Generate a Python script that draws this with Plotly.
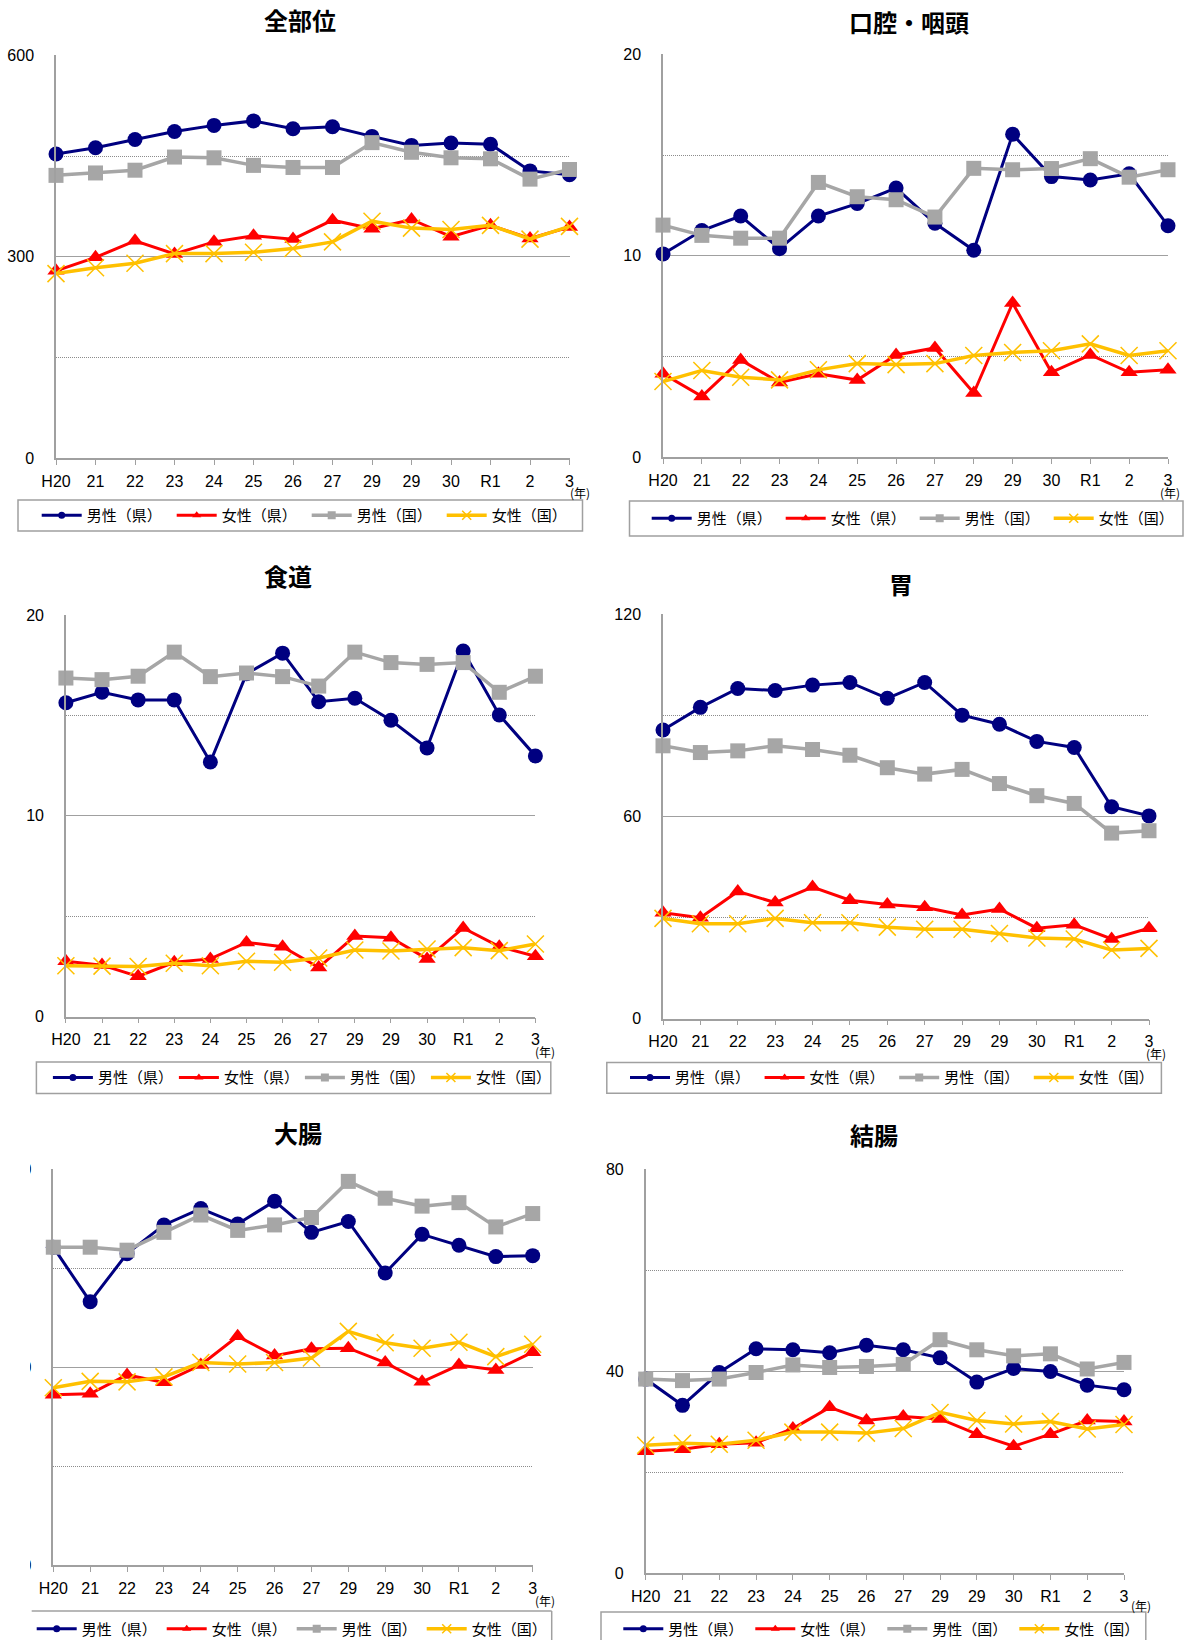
import plotly.graph_objects as go

W, H = 1187, 1640

years = ["H20", "21", "22", "23", "24", "25", "26", "27", "29", "29", "30", "R1", "2", "3"]
series_names = ["男性（県）", "女性（県）", "男性（国）", "女性（国）"]

# 全部位
all_m_pref = [453.1, 462.3, 474.6, 486.5, 495.7, 502.4, 490.6, 493.7, 479.3, 465.9, 469.5, 467.5, 427.9, 422.3]
all_f_pref = [278.9, 299.0, 323.6, 304.1, 322.1, 331.3, 326.2, 354.4, 341.6, 355.5, 329.8, 346.7, 327.2, 344.2]
all_m_nat = [421.2, 424.8, 428.9, 448.5, 447.4, 436.1, 433.0, 433.0, 470.0, 455.6, 447.4, 445.9, 415.6, 430.0]
all_f_nat = [274.8, 283.6, 290.2, 304.6, 304.6, 306.7, 312.3, 322.1, 352.9, 342.6, 340.6, 346.7, 326.2, 345.2]

# 口腔・咽頭
oral_m_pref = [10.09, 11.25, 11.97, 10.35, 11.97, 12.59, 13.36, 11.61, 10.27, 16.03, 13.93, 13.76, 14.07, 11.49]
oral_f_pref = [4.13, 3.01, 4.82, 3.70, 4.13, 3.82, 5.07, 5.42, 3.18, 7.65, 4.21, 5.07, 4.21, 4.33]
oral_m_nat = [11.52, 11.01, 10.87, 10.87, 13.64, 12.93, 12.78, 11.92, 14.34, 14.27, 14.33, 14.82, 13.90, 14.27]
oral_f_nat = [3.75, 4.30, 3.96, 3.83, 4.33, 4.64, 4.59, 4.64, 5.04, 5.19, 5.28, 5.62, 5.04, 5.28]

# 食道
eso_m_pref = [15.63, 16.15, 15.77, 15.77, 12.68, 17.07, 18.10, 15.68, 15.85, 14.76, 13.38, 18.21, 15.02, 12.98]
eso_f_pref = [2.75, 2.56, 2.00, 2.70, 2.87, 3.69, 3.48, 2.44, 4.01, 3.92, 2.87, 4.41, 3.48, 3.00]
eso_m_nat = [16.86, 16.78, 16.95, 18.15, 16.93, 17.11, 16.93, 16.46, 18.15, 17.63, 17.54, 17.63, 16.15, 16.95]
eso_f_nat = [2.53, 2.51, 2.49, 2.65, 2.53, 2.75, 2.70, 2.91, 3.31, 3.26, 3.36, 3.43, 3.28, 3.61]

# 胃
sto_m_pref = [85.6, 92.3, 97.9, 97.3, 98.9, 99.7, 95.0, 99.7, 90.0, 87.3, 82.2, 80.4, 62.8, 60.1]
sto_f_pref = [31.4, 29.9, 37.7, 34.4, 39.0, 35.1, 33.8, 33.0, 30.7, 32.5, 26.8, 27.8, 23.6, 26.8]
sto_m_nat = [80.9, 78.9, 79.4, 80.9, 79.8, 78.1, 74.4, 72.5, 73.9, 69.7, 66.1, 63.8, 55.0, 55.7]
sto_f_nat = [29.7, 28.1, 28.1, 29.7, 28.4, 28.4, 27.1, 26.5, 26.5, 25.2, 23.9, 23.6, 20.3, 20.8]

# 大腸
crc_m_pref = [64.2, 53.2, 62.9, 68.7, 72.0, 68.9, 73.5, 67.2, 69.4, 59.0, 66.8, 64.6, 62.3, 62.5]
crc_f_pref = [34.4, 34.6, 38.4, 36.9, 40.4, 46.2, 42.3, 43.7, 43.8, 40.9, 37.0, 40.4, 39.4, 43.0]
crc_m_nat = [64.2, 64.2, 63.6, 67.2, 70.7, 67.6, 68.7, 70.2, 77.5, 74.1, 72.5, 73.2, 68.3, 71.0]
crc_f_nat = [35.8, 37.1, 37.0, 38.0, 40.9, 40.6, 40.9, 41.8, 47.2, 44.9, 43.8, 45.0, 42.1, 44.6]

# 結腸
col_m_pref = [38.4, 33.2, 39.7, 44.4, 44.2, 43.6, 45.1, 44.2, 42.6, 37.8, 40.5, 39.9, 37.2, 36.3]
col_f_pref = [24.1, 24.5, 25.5, 25.8, 28.6, 32.8, 30.2, 31.0, 30.5, 27.5, 25.1, 27.5, 30.2, 30.0]
col_m_nat = [38.4, 38.1, 38.4, 39.7, 41.2, 40.7, 40.9, 41.3, 46.2, 44.2, 43.0, 43.4, 40.4, 41.7]
col_f_nat = [25.3, 25.7, 25.5, 26.3, 27.9, 27.9, 27.7, 28.6, 31.8, 30.2, 29.5, 30.0, 28.5, 29.4]

titles = ["全部位", "口腔・咽頭", "食道", "胃", "大腸", "結腸"]
y_tops = [600, 20, 20, 120, 80, 80]
chart_data = [
    [all_m_pref, all_f_pref, all_m_nat, all_f_nat],
    [oral_m_pref, oral_f_pref, oral_m_nat, oral_f_nat],
    [eso_m_pref, eso_f_pref, eso_m_nat, eso_f_nat],
    [sto_m_pref, sto_f_pref, sto_m_nat, sto_f_nat],
    [crc_m_pref, crc_f_pref, crc_m_nat, crc_f_nat],
    [col_m_pref, col_f_pref, col_m_nat, col_f_nat],
]

# layout in pixels: plot left, right, top, bottom
plot_px = [
    (56.0, 569.5, 55.4, 458.0),
    (663.0, 1168.0, 54.4, 457.0),
    (65.9, 535.4, 615.0, 1016.5),
    (663.0, 1149.0, 614.0, 1018.5),
    (53.3, 532.7, 1169.0, 1565.0),
    (645.7, 1124.0, 1169.0, 1573.0),
]
title_px = [(300, 19), (909, 21), (288, 575), (901, 583), (298, 1132), (874, 1134)]
nen_px = [(580, 492), (1170, 493), (545, 1051), (1156, 1053), (545, 1600), (1141, 1605)]
# legend: first sample start x, text center y, item spacing
legend_px = [(41.7, 515.5, 135), (651.7, 518.5, 134), (52.9, 1077.7, 126),
             (630.0, 1077.8, 134.6), (36.7, 1629, 130), (623.3, 1629, 132)]
# legend box: left, right, top, bottom
legbox_px = [(18, 582.5, 500, 531), (629.5, 1183, 501, 536), (36.4, 550.8, 1062, 1093.5),
             (606.8, 1161.4, 1062.4, 1093.3), (31.7, 551.7, 1611, 1700), (601, 1145.8, 1612, 1700)]

styles = [
    dict(color="#000080", symbol="circle", size=15, lw=3.0, lsize=7),
    dict(color="#FF0000", symbol="triangle-up", size=15, lw=3.0, lsize=8),
    dict(color="#A6A6A6", symbol="square", size=15, lw=3.5, lsize=8),
    dict(color="#FFC000", symbol="x-thin", size=17, lw=3.5, lsize=9),
]

GRID = "#A0A0A0"
TICKFONT = dict(family="Liberation Sans, Arial, Noto Sans CJK JP", size=16, color="#000000")
JFONT = "Noto Sans CJK JP"


def px_x(x):
    return x / W


def px_y(y):
    return 1 - y / H


def marker_for(st, size):
    if st["symbol"] == "x-thin":
        return dict(symbol="x-thin", size=size, color=st["color"],
                    line=dict(width=1.5, color=st["color"]))
    return dict(symbol=st["symbol"], size=size, color=st["color"], line=dict(width=0))


fig = go.Figure()
layout = dict(
    width=W, height=H,
    margin=dict(l=0, r=0, t=0, b=0, autoexpand=False),
    paper_bgcolor="white", plot_bgcolor="white",
    showlegend=True,
)
annotations = []
shapes = []

x_idx = list(range(len(years)))

for k in range(6):
    n = k + 1
    xa = "x" if n == 1 else f"x{n}"
    ya = "y" if n == 1 else f"y{n}"
    leg = "legend" if n == 1 else f"legend{n}"
    for s in range(4):
        st = styles[s]
        fig.add_trace(go.Scatter(
            x=x_idx, y=chart_data[k][s], mode="lines+markers",
            line=dict(color=st["color"], width=st["lw"]),
            marker=marker_for(st, st["size"]),
            xaxis=xa, yaxis=ya, showlegend=False, cliponaxis=False,
            name=series_names[s], hoverinfo="skip",
        ))
    for s in range(4):
        st = styles[s]
        fig.add_trace(go.Scatter(
            x=[None], y=[None], mode="lines+markers",
            line=dict(color=st["color"], width=st["lw"]),
            marker=marker_for(st, st["lsize"]),
            xaxis=xa, yaxis=ya, showlegend=True, legend=leg,
            name=series_names[s], hoverinfo="skip",
        ))

    l, r, t, b = plot_px[k]
    top = y_tops[k]
    layout["xaxis" if n == 1 else f"xaxis{n}"] = dict(
        domain=[px_x(l), px_x(r)], anchor=ya, range=[0, len(years) - 1],
        tickvals=x_idx, ticktext=years, ticks="outside", ticklen=5,
        tickcolor=GRID, tickwidth=1, showline=True, linecolor=GRID, linewidth=1.5,
        showgrid=False, zeroline=False, tickfont=TICKFONT, ticklabelstandoff=3,
        fixedrange=True,
    )
    layout["yaxis" if n == 1 else f"yaxis{n}"] = dict(
        domain=[px_y(b), px_y(t)], anchor=xa, range=[0, top],
        tickvals=[0, top / 2, top], ticktext=[str(v) for v in [0, top // 2, top]],
        ticks="", showline=True, linecolor=GRID, linewidth=1.5,
        showgrid=True, gridcolor=GRID, gridwidth=1.2, zeroline=False,
        tickfont=TICKFONT, ticklabelstandoff=17,
        minor=dict(tickvals=[top / 4, 3 * top / 4], showgrid=True,
                   gridcolor="#8C8C8C", griddash="1px,1px", gridwidth=1, ticks=""),
        fixedrange=True,
    )

    sx, sy, sp = legend_px[k]
    layout[leg] = dict(
        orientation="h", x=px_x(sx - 5), y=px_y(sy), xanchor="left", yanchor="middle",
        bgcolor="rgba(0,0,0,0)", borderwidth=0, itemwidth=40,
        entrywidth=sp - 55, entrywidthmode="pixels",
        font=dict(family=JFONT, size=15, color="#000000"),
        traceorder="normal",
    )

    bl, br, bt, bb = legbox_px[k]
    if k == 4:
        shapes.append(dict(type="line", xref="paper", yref="paper",
                           x0=px_x(bl), x1=px_x(br), y0=px_y(bt), y1=px_y(bt),
                           line=dict(color=GRID, width=1.5), layer="below"))
        shapes.append(dict(type="line", xref="paper", yref="paper",
                           x0=px_x(br), x1=px_x(br), y0=px_y(bt), y1=px_y(bb),
                           line=dict(color=GRID, width=1.5), layer="below"))
    else:
        shapes.append(dict(type="rect", xref="paper", yref="paper",
                           x0=px_x(bl), x1=px_x(br), y0=px_y(bb), y1=px_y(bt),
                           line=dict(color=GRID, width=1.5), fillcolor="rgba(0,0,0,0)",
                           layer="below"))

    tx, ty = title_px[k]
    annotations.append(dict(text="<b>" + titles[k] + "</b>", x=px_x(tx), y=px_y(ty),
                            xref="paper", yref="paper", showarrow=False,
                            xanchor="center", yanchor="middle",
                            font=dict(family=JFONT, size=24, color="#000000")))
    nx, ny = nen_px[k]
    annotations.append(dict(text="(年)", x=px_x(nx), y=px_y(ny),
                            xref="paper", yref="paper", showarrow=False,
                            xanchor="center", yanchor="middle",
                            font=dict(family=JFONT, size=12, color="#000000")))

# the 大腸 panel is cropped on its left edge in the source image
shapes.append(dict(type="rect", xref="paper", yref="paper",
                   x0=px_x(-5), x1=px_x(30), y0=px_y(1600), y1=px_y(1100),
                   fillcolor="white", line=dict(width=0), layer="above"))

layout["annotations"] = annotations
layout["shapes"] = shapes
fig.update_layout(**layout)

fig.write_html("out.html", config={"displayModeBar": False},
               post_script="document.body.style.margin='0';document.body.style.padding='0';")
